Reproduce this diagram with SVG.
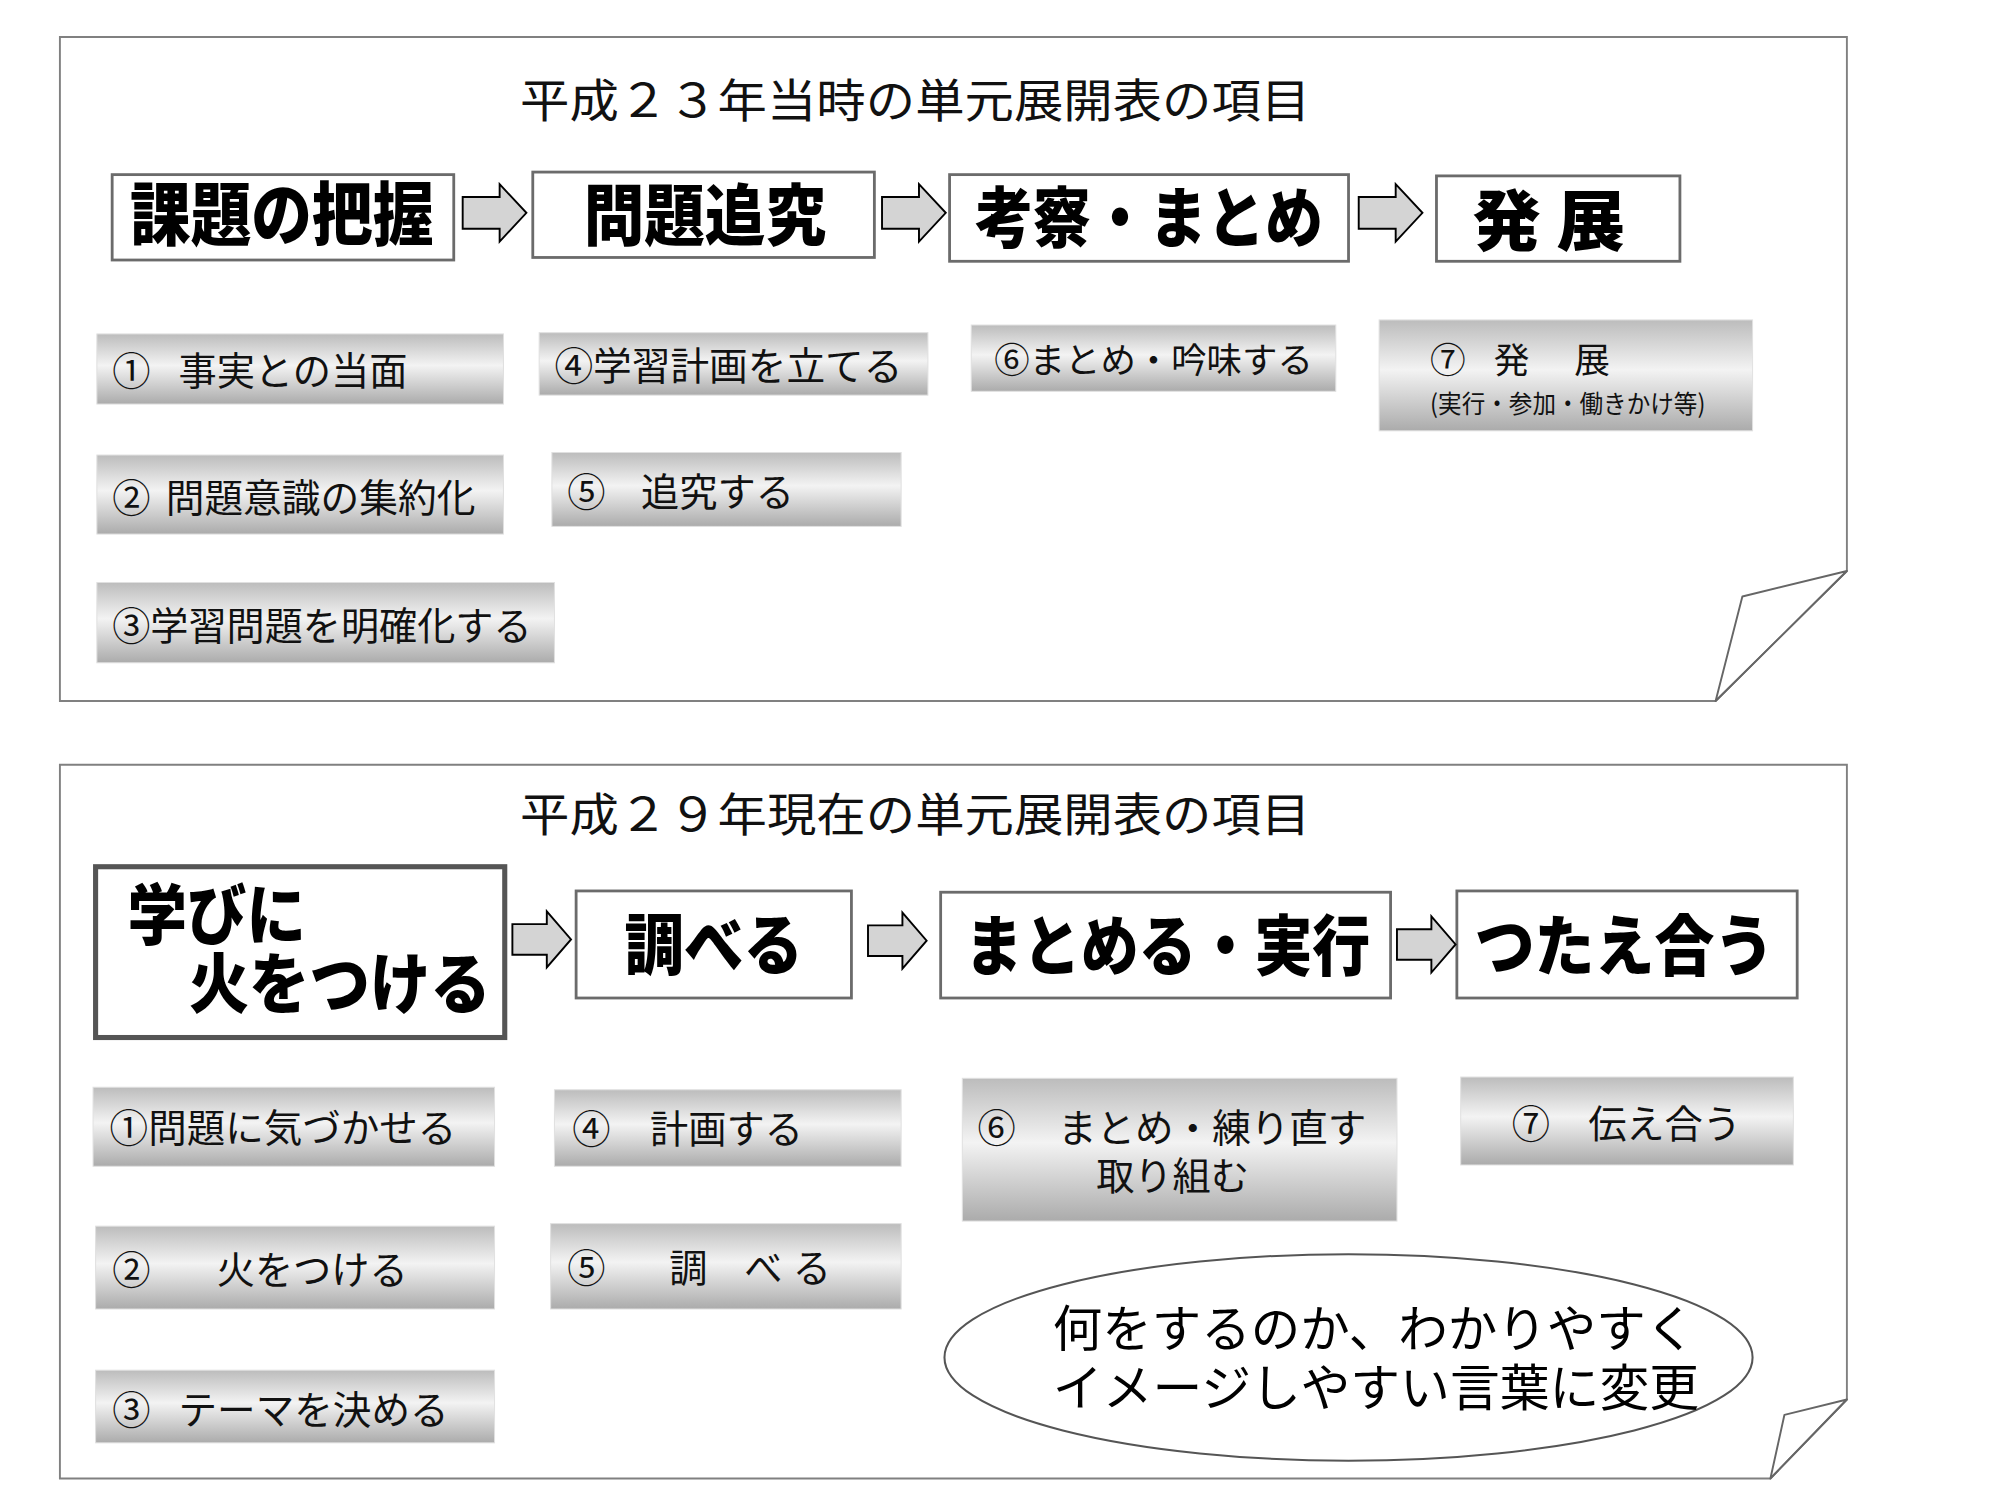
<svg xmlns="http://www.w3.org/2000/svg" width="2000" height="1500" viewBox="0 0 2000 1500">
<style>
.panel{fill:#fff;stroke:#808080;stroke-width:1.5}
.fold{fill:none;stroke:#666;stroke-width:1.5;stroke-linejoin:round}
.hdr{fill:#fff;stroke:#6b6b6b;stroke-width:2.2}
.hdr2{fill:#fff;stroke:#555;stroke-width:4}
.grad{fill:url(#g);stroke:#e0e0e0;stroke-width:0.8}
.ht{font-family:"Noto Sans CJK JP","Noto Sans CJK SC",sans-serif;font-weight:900;fill:#000}
.bt{font-family:"Noto Sans CJK JP","Noto Sans CJK SC",sans-serif;fill:#111}
.tt{font-family:"Noto Sans CJK JP","Noto Sans CJK SC",sans-serif;font-size:36px;fill:#111}
.et{font-family:"Noto Sans CJK JP","Noto Sans CJK SC",sans-serif;font-size:39px;fill:#000}
.arrow{fill:#d4d4d4;stroke:#000;stroke-width:1.5;stroke-linejoin:miter}
</style>
<defs>
<linearGradient id="g" x1="0" y1="0" x2="0" y2="1">
<stop offset="0" stop-color="#bcbcbc"/>
<stop offset="0.45" stop-color="#f3f3f3"/>
<stop offset="1" stop-color="#ababab"/>
</linearGradient>
<path id="arr" d="M0,-12.5 H29 V-22.5 L50,0 L29,22.5 V12.5 H0 Z"/>
<path id="arr2" d="M0,-12 H27 V-22 L46,0 L27,22 V12 H0 Z"/>
</defs>
<rect width="2000" height="1500" fill="#fff"/>
<g transform="scale(1.2746)">
<g id="panel-top">
<path class="panel" d="M47,29 H1449 V448 L1346,550 H47 Z"/>
<path class="fold" d="M1449,448 L1367,468 L1346,550 Z"/>
<text class="tt" x="408" y="92" textLength="620" lengthAdjust="spacingAndGlyphs">平成２３年当時の単元展開表の項目</text>
</g>
<g id="panel-bottom">
<path class="panel" d="M47,600 H1449 V1098 L1389,1160 H47 Z"/>
<path class="fold" d="M1449,1098 L1400,1110 L1389,1160 Z"/>
<text class="tt" x="408" y="652" textLength="620" lengthAdjust="spacingAndGlyphs">平成２９年現在の単元展開表の項目</text>
</g>

<g id="h1">
<rect class="hdr" x="88" y="137" width="268" height="67"/>
<text class="ht" x="102" y="188" font-size="54" textLength="238" lengthAdjust="spacingAndGlyphs">課題の把握</text>
</g>
<g id="h2">
<rect class="hdr" x="418" y="135" width="268" height="67"/>
<text class="ht" x="458" y="188" font-size="53" textLength="190" lengthAdjust="spacingAndGlyphs">問題追究</text>
</g>
<g id="h3">
<rect class="hdr" x="745" y="137" width="313" height="68"/>
<text class="ht" x="765" y="190" font-size="52" textLength="273" lengthAdjust="spacingAndGlyphs">考察・まとめ</text>
</g>
<g id="h4">
<rect class="hdr" x="1127" y="138" width="191" height="67"/>
<text class="ht" x="1155" y="192" font-size="52" textLength="120" lengthAdjust="spacingAndGlyphs">発 展</text>
</g>

<g id="b1-1">
<rect class="grad" x="76" y="262" width="319" height="55"/>
<text class="bt" y="302" font-size="30"><tspan x="88">①</tspan><tspan x="140">事実との当面</tspan></text>
</g>
<g id="b1-2">
<rect class="grad" x="76" y="357" width="319" height="62"/>
<text class="bt" y="402" font-size="30"><tspan x="88">②</tspan><tspan x="130" textLength="243" lengthAdjust="spacingAndGlyphs">問題意識の集約化</tspan></text>
</g>
<g id="b1-3">
<rect class="grad" x="76" y="457" width="359" height="63"/>
<text class="bt" x="88" y="502" font-size="30" textLength="329" lengthAdjust="spacingAndGlyphs">③学習問題を明確化する</text>
</g>
<g id="b1-4">
<rect class="grad" x="423" y="261" width="305" height="49"/>
<text class="bt" x="435" y="298" font-size="30" textLength="273" lengthAdjust="spacingAndGlyphs">④学習計画を立てる</text>
</g>
<g id="b1-5">
<rect class="grad" x="433" y="355" width="274" height="58"/>
<text class="bt" y="397" font-size="30"><tspan x="445">⑤</tspan><tspan x="503">追究する</tspan></text>
</g>
<g id="b1-6">
<rect class="grad" x="762" y="255" width="286" height="52"/>
<text class="bt" x="780" y="293" font-size="28" textLength="250" lengthAdjust="spacingAndGlyphs">⑥まとめ・吟味する</text>
</g>
<g id="b1-7">
<rect class="grad" x="1082" y="251" width="293" height="87"/>
<text class="bt" y="293" font-size="28"><tspan x="1122">⑦</tspan><tspan x="1172">発</tspan><tspan x="1235">展</tspan></text>
<text class="bt" x="1122" y="324" font-size="20" textLength="216" lengthAdjust="spacingAndGlyphs">(実行・参加・働きかけ等)</text>
</g>

<g id="h5">
<rect class="hdr2" x="75" y="680" width="321" height="134"/>
<text class="ht" x="100" y="737" font-size="52" textLength="140" lengthAdjust="spacingAndGlyphs">学びに</text>
<text class="ht" x="148" y="791" font-size="52" textLength="237" lengthAdjust="spacingAndGlyphs">火をつける</text>
</g>
<g id="h6">
<rect class="hdr" x="452" y="699" width="216" height="84"/>
<text class="ht" x="490" y="760" font-size="52" textLength="140" lengthAdjust="spacingAndGlyphs">調べる</text>
</g>
<g id="h7">
<rect class="hdr" x="738" y="700" width="353" height="83"/>
<text class="ht" x="757" y="761" font-size="52" textLength="318" lengthAdjust="spacingAndGlyphs">まとめる・実行</text>
</g>
<g id="h8">
<rect class="hdr" x="1143" y="699" width="267" height="84"/>
<text class="ht" x="1157" y="761" font-size="52" textLength="235" lengthAdjust="spacingAndGlyphs">つたえ合う</text>
</g>

<g id="b2-1">
<rect class="grad" x="73" y="853" width="315" height="62"/>
<text class="bt" x="86" y="896" font-size="30" textLength="272" lengthAdjust="spacingAndGlyphs">①問題に気づかせる</text>
</g>
<g id="b2-2">
<rect class="grad" x="75" y="962" width="313" height="65"/>
<text class="bt" y="1007" font-size="30"><tspan x="88">②</tspan><tspan x="170">火をつける</tspan></text>
</g>
<g id="b2-3">
<rect class="grad" x="75" y="1075" width="313" height="57"/>
<text class="bt" y="1117" font-size="30"><tspan x="88">③</tspan><tspan x="140" textLength="212" lengthAdjust="spacingAndGlyphs">テーマを決める</tspan></text>
</g>
<g id="b2-4">
<rect class="grad" x="435" y="855" width="272" height="60"/>
<text class="bt" y="897" font-size="30"><tspan x="449">④</tspan><tspan x="510">計画する</tspan></text>
</g>
<g id="b2-5">
<rect class="grad" x="432" y="960" width="275" height="67"/>
<text class="bt" y="1006" font-size="30"><tspan x="445">⑤</tspan><tspan x="525">調</tspan><tspan x="584">べ</tspan><tspan x="622">る</tspan></text>
</g>
<g id="b2-6">
<rect class="grad" x="755" y="846" width="341" height="112"/>
<text class="bt" y="896" font-size="30"><tspan x="767">⑥</tspan><tspan x="830" textLength="242" lengthAdjust="spacingAndGlyphs">まとめ・練り直す</tspan></text>
<text class="bt" x="860" y="934" font-size="30">取り組む</text>
</g>
<g id="b2-7">
<rect class="grad" x="1146" y="845" width="261" height="69"/>
<text class="bt" y="893" font-size="30"><tspan x="1186">⑦</tspan><tspan x="1246">伝え合う</tspan></text>
</g>

<g id="note">
<ellipse cx="1058" cy="1065" rx="317" ry="81" fill="#fff" stroke="#555" stroke-width="1.6"/>
<text class="et" x="826" y="1057" textLength="504" lengthAdjust="spacingAndGlyphs">何をするのか、わかりやすく</text>
<text class="et" x="826" y="1103" textLength="507" lengthAdjust="spacingAndGlyphs">イメージしやすい言葉に変更</text>
</g>

<g id="connectors">
<use href="#arr" class="arrow" x="363" y="167"/>
<use href="#arr" class="arrow" x="692" y="167"/>
<use href="#arr" class="arrow" x="1066" y="167"/>
<use href="#arr2" class="arrow" x="402" y="737"/>
<use href="#arr2" class="arrow" x="681" y="738"/>
<use href="#arr2" class="arrow" x="1096" y="741"/>
</g>
</g>
</svg>
